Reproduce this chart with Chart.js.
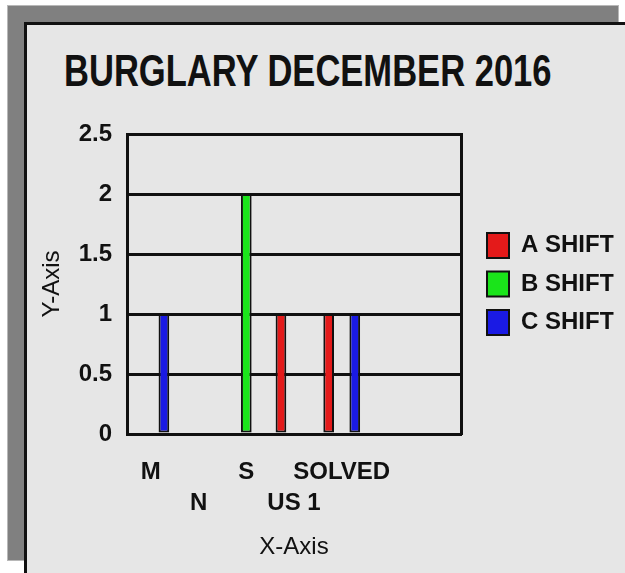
<!DOCTYPE html>
<html>
<head>
<meta charset="utf-8">
<script src="https://cdn.jsdelivr.net/npm/chart.js@4"></script>
<style>
  html, body { margin:0; padding:0; background:#ffffff; width:625px; height:573px; overflow:hidden; }
  #shadow { position:absolute; left:8px; top:6px; width:610px; height:554px; background:#808080; box-shadow:0 0 0 1px #b8b8b8; }
  #panel { position:absolute; left:24px; top:22px; width:700px; height:700px; background:#e6e6e6; border:3px solid #111; box-sizing:border-box; }
  #title { position:absolute; left:64px; top:49px; font-family:'Liberation Sans', Arial, sans-serif; font-weight:bold; font-size:44px; line-height:44px; color:#111; white-space:nowrap; transform:scaleX(0.785); transform-origin:left top; }
  #c { position:absolute; left:0; top:0; }
</style>
</head>
<body>
<div id="shadow"></div>
<div id="panel"></div>
<div id="title">BURGLARY DECEMBER 2016</div>
<canvas id="c" width="625" height="573"></canvas>
<script>
const categories = ['M', 'N', 'S', 'US 1', 'SOLVED', '', ''];
const aShift = [null, null, null, 1, 1, null, null];
const bShift = [null, null, 2, null, null, null, null];
const cShift = [1, null, null, null, 1, null, null];
const seriesNames = ['A SHIFT', 'B SHIFT', 'C SHIFT'];
const yTicks = { min: 0, max: 2.5, step: 0.5 };

const INK = '#111111';
Chart.defaults.font.family = "'Liberation Sans', Arial, sans-serif";
Chart.defaults.color = INK;

const barCommon = { borderColor: INK, borderWidth: 2, borderSkipped: false, barPercentage: 0.82, categoryPercentage: 0.82 };

new Chart(document.getElementById('c'), {
  type: 'bar',
  data: {
    labels: categories,
    datasets: [
      Object.assign({ label: seriesNames[0], data: aShift, backgroundColor: 'rgb(228,26,26)' }, barCommon),
      Object.assign({ label: seriesNames[1], data: bShift, backgroundColor: 'rgb(26,228,26)' }, barCommon),
      Object.assign({ label: seriesNames[2], data: cShift, backgroundColor: 'rgb(26,26,228)' }, barCommon)
    ]
  },
  options: {
    responsive: false,
    animation: false,
    devicePixelRatio: 1,
    layout: { padding: { top: 134, left: 0, right: 11.5, bottom: 0 } },
    plugins: {
      title: { display: false },
      tooltip: { enabled: false },
      legend: {
        position: 'right',
        align: 'center',
        fullSize: false,
        maxWidth: 140,
        labels: {
          boxWidth: 22,
          boxHeight: 25,
          padding: 13.5,
          color: INK,
          font: { size: 24, weight: 'bold' }
        }
      }
    },
    scales: {
      x: {
        type: 'category',
        grid: { display: false, drawTicks: false },
        border: { display: true, color: INK, width: 3 },
        ticks: {
          autoSkip: false, maxRotation: 0, minRotation: 0,
          padding: 22.5,
          color: INK,
          font: { size: 24, weight: 'bold', lineHeight: 31 / 24 },
          callback: function (v, i) {
            const l = this.getLabelForValue(v);
            return i % 2 ? ['', l] : l;
          }
        },
        title: {
          display: true, text: 'X-Axis', color: INK,
          font: { size: 24, weight: 'normal' },
          padding: { top: 0, bottom: 11.6 }
        },
        afterFit: function (s) { s.height = 139; }
      },
      y: {
        position: 'left',
        min: yTicks.min, max: yTicks.max,
        grid: { color: INK, lineWidth: 3, drawTicks: false },
        border: { display: true, color: INK, width: 3 },
        ticks: {
          stepSize: yTicks.step,
          padding: 15,
          color: INK,
          font: { size: 24, weight: 'bold' },
          callback: function (v) { return String(Number(v)); }
        },
        title: {
          display: true, text: 'Y-Axis', color: INK,
          font: { size: 24, weight: 'normal' },
          padding: { top: 37.6, bottom: 0 }
        },
        afterFit: function (s) { s.width = 127; }
      },
      y2: {
        position: 'right',
        min: yTicks.min, max: yTicks.max,
        grid: { display: false, drawTicks: false },
        border: { display: true, color: INK, width: 3 },
        ticks: { display: false },
        afterFit: function (s) { s.width = 12.5; }
      }
    }
  }
});
</script>
</body>
</html>
